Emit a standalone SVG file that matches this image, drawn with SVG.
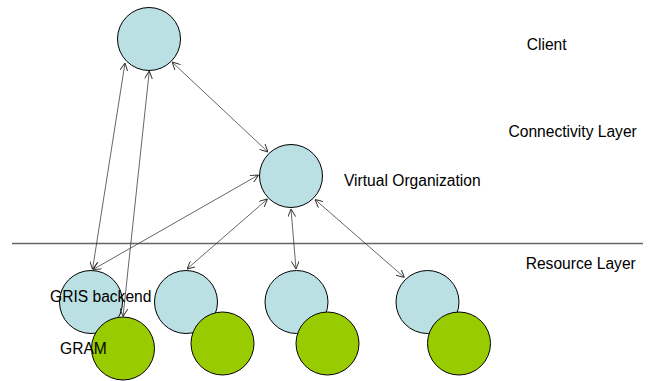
<svg xmlns="http://www.w3.org/2000/svg" width="648" height="381" viewBox="0 0 648 381">
<style>
.blue{fill:#BBE0E3;stroke:#000;stroke-width:1}
.green{fill:#99CC00;stroke:#000;stroke-width:1}
.lbl{font-family:"Liberation Sans",Arial,sans-serif;font-size:15.6px;fill:#000}
.con line{stroke:#333;stroke-width:0.75;fill:none;marker-start:url(#ah);marker-end:url(#ah)}
</style>
<defs>
<marker id="ah" viewBox="0 0 10 10" refX="10" refY="5" markerWidth="8" markerHeight="8" markerUnits="userSpaceOnUse" orient="auto-start-reverse">
<path d="M0,0 L10,5 L0,10" fill="none" stroke="#333" stroke-width="1.2"/>
</marker>
</defs>
<rect width="648" height="381" fill="#fff"/>
<line x1="12" y1="243.5" x2="643" y2="243.5" stroke="#666" stroke-width="1.5"/>
<g id="client"><circle class="blue" cx="149" cy="39" r="31.5"/></g>
<g id="vo"><circle class="blue" cx="291" cy="176" r="31.5"/></g>
<g id="res1"><circle class="blue" cx="91" cy="302" r="31.5"/></g>
<g id="res2"><circle class="blue" cx="186" cy="302" r="31.5"/></g>
<g id="res3"><circle class="blue" cx="296.5" cy="302" r="31.5"/></g>
<g id="res4"><circle class="blue" cx="427.5" cy="302" r="31.5"/></g>
<g id="gram1"><circle class="green" cx="123" cy="348.5" r="31.5"/></g>
<g id="gram2"><circle class="green" cx="222.5" cy="343.5" r="31.5"/></g>
<g id="gram3"><circle class="green" cx="327.5" cy="343.5" r="31.5"/></g>
<g id="gram4"><circle class="green" cx="459" cy="343.5" r="31.5"/></g>
<g class="con" id="connectors">
<line x1="172" y1="62" x2="268" y2="152"/>
<line x1="125" y1="63" x2="92.5" y2="269.5"/>
<line x1="149.3" y1="71" x2="123" y2="316.5"/>
<line x1="258.5" y1="175" x2="93" y2="269.5"/>
<line x1="267.5" y1="199" x2="187" y2="269"/>
<line x1="291" y1="209" x2="296" y2="269"/>
<line x1="315" y1="199.5" x2="404.5" y2="277.5"/>
</g>
<g id="labels">
<text class="lbl" x="526.7" y="50">Client</text>
<text class="lbl" x="508.5" y="137">Connectivity Layer</text>
<text class="lbl" x="344" y="186">Virtual Organization</text>
<text class="lbl" x="525.7" y="269">Resource Layer</text>
<text class="lbl" x="50" y="302">GRIS backend</text>
<text class="lbl" x="60" y="354">GRAM</text>
</g>
</svg>
